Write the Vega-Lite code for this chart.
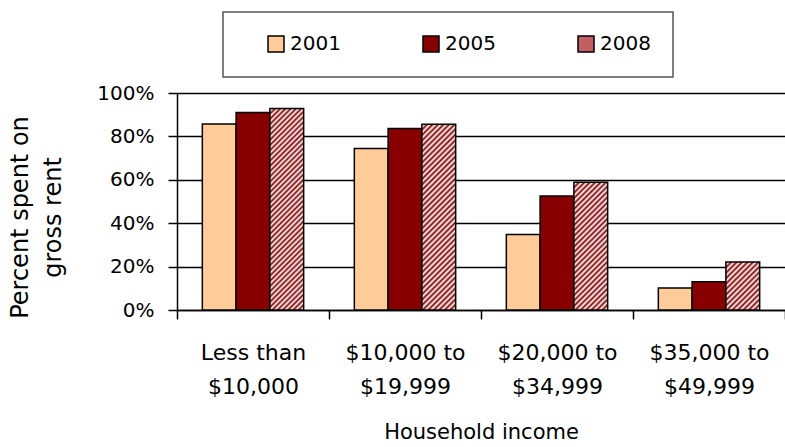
{
  "$schema": "https://vega.github.io/schema/vega-lite/v6.json",
  "width": 608,
  "height": 217,
  "autosize": {"type": "none"},
  "padding": {"left": 177, "top": 93, "right": 0, "bottom": 137},
  "background": "white",
  "config": {"font": "DejaVu Sans", "view": {"stroke": null}},
  "data": {"values": [
    {"income": "Less than $10,000", "year": "2001", "pct": 0.857},
    {"income": "Less than $10,000", "year": "2005", "pct": 0.91},
    {"income": "Less than $10,000", "year": "2008", "pct": 0.928},
    {"income": "$10,000 to $19,999", "year": "2001", "pct": 0.744},
    {"income": "$10,000 to $19,999", "year": "2005", "pct": 0.836},
    {"income": "$10,000 to $19,999", "year": "2008", "pct": 0.856},
    {"income": "$20,000 to $34,999", "year": "2001", "pct": 0.348},
    {"income": "$20,000 to $34,999", "year": "2005", "pct": 0.525},
    {"income": "$20,000 to $34,999", "year": "2008", "pct": 0.589},
    {"income": "$35,000 to $49,999", "year": "2001", "pct": 0.101},
    {"income": "$35,000 to $49,999", "year": "2005", "pct": 0.13},
    {"income": "$35,000 to $49,999", "year": "2008", "pct": 0.221}
  ]},
  "mark": {"type": "bar", "stroke": "#000", "strokeWidth": 1.5},
  "encoding": {
    "x": {
      "field": "income", "type": "nominal",
      "sort": ["Less than $10,000", "$10,000 to $19,999", "$20,000 to $34,999", "$35,000 to $49,999"],
      "scale": {"paddingInner": 0, "paddingOuter": 0},
      "axis": {
        "tickBand": "extent", "grid": false,
        "domainColor": "#000", "domainWidth": 1.5,
        "tickColor": "#000", "tickWidth": 1.5, "tickSize": 9,
        "labelAngle": 0, "labelFontSize": 22, "labelColor": "#000",
        "labelBaseline": "alphabetic", "labelPadding": 40, "labelLineHeight": 34,
        "labelExpr": "[slice(datum.label, 0, lastindexof(datum.label, ' ')), slice(datum.label, lastindexof(datum.label, ' ') + 1)]",
        "title": "Household income", "titleFontSize": 21, "titleFontWeight": "normal", "titleColor": "#000",
        "titleBaseline": "alphabetic", "titleY": 128
      }
    },
    "xOffset": {"field": "year", "type": "nominal", "scale": {"paddingInner": 0, "paddingOuter": 0.75}},
    "y": {
      "field": "pct", "type": "quantitative",
      "scale": {"domain": [0, 1]},
      "axis": {
        "values": [0, 0.2, 0.4, 0.6, 0.8, 1], "format": ".0%",
        "grid": true, "gridColor": "#000", "gridWidth": 1.5,
        "domainColor": "#000", "domainWidth": 1.5,
        "tickColor": "#000", "tickWidth": 1.5, "tickSize": 9,
        "labelFontSize": 20, "labelColor": "#000", "labelPadding": 14,
        "title": ["Percent spent on", "gross rent"], "titleFontSize": 24, "titleFontWeight": "normal", "titleColor": "#000",
        "titleAngle": -90, "titleAlign": "center", "titleBaseline": "top", "titleX": -169, "titleY": 124, "titleLineHeight": 33
      }
    },
    "fill": {
      "field": "year", "type": "nominal",
      "scale": {"domain": ["2001", "2005", "2008"], "range": ["#FFCC99", "#880000", "#c06060"]},
      "condition": [
        {"test": "datum.year === '2008' && datum.income === 'Less than $10,000'", "value": {"gradient": "linear", "x1": 0, "y1": 0, "x2": 0.1905, "y2": 1.1358, "stops": [{"offset":0,"color":"#800"},{"offset":0.0111,"color":"#fff"},{"offset":0.0222,"color":"#800"},{"offset":0.0333,"color":"#fff"},{"offset":0.0444,"color":"#800"},{"offset":0.0556,"color":"#fff"},{"offset":0.0667,"color":"#800"},{"offset":0.0778,"color":"#fff"},{"offset":0.0889,"color":"#800"},{"offset":0.1,"color":"#fff"},{"offset":0.1111,"color":"#800"},{"offset":0.1222,"color":"#fff"},{"offset":0.1333,"color":"#800"},{"offset":0.1444,"color":"#fff"},{"offset":0.1556,"color":"#800"},{"offset":0.1667,"color":"#fff"},{"offset":0.1778,"color":"#800"},{"offset":0.1889,"color":"#fff"},{"offset":0.2,"color":"#800"},{"offset":0.2111,"color":"#fff"},{"offset":0.2222,"color":"#800"},{"offset":0.2333,"color":"#fff"},{"offset":0.2444,"color":"#800"},{"offset":0.2556,"color":"#fff"},{"offset":0.2667,"color":"#800"},{"offset":0.2778,"color":"#fff"},{"offset":0.2889,"color":"#800"},{"offset":0.3,"color":"#fff"},{"offset":0.3111,"color":"#800"},{"offset":0.3222,"color":"#fff"},{"offset":0.3333,"color":"#800"},{"offset":0.3444,"color":"#fff"},{"offset":0.3556,"color":"#800"},{"offset":0.3667,"color":"#fff"},{"offset":0.3778,"color":"#800"},{"offset":0.3889,"color":"#fff"},{"offset":0.4,"color":"#800"},{"offset":0.4111,"color":"#fff"},{"offset":0.4222,"color":"#800"},{"offset":0.4333,"color":"#fff"},{"offset":0.4444,"color":"#800"},{"offset":0.4556,"color":"#fff"},{"offset":0.4667,"color":"#800"},{"offset":0.4778,"color":"#fff"},{"offset":0.4889,"color":"#800"},{"offset":0.5,"color":"#fff"},{"offset":0.5111,"color":"#800"},{"offset":0.5222,"color":"#fff"},{"offset":0.5333,"color":"#800"},{"offset":0.5444,"color":"#fff"},{"offset":0.5556,"color":"#800"},{"offset":0.5667,"color":"#fff"},{"offset":0.5778,"color":"#800"},{"offset":0.5889,"color":"#fff"},{"offset":0.6,"color":"#800"},{"offset":0.6111,"color":"#fff"},{"offset":0.6222,"color":"#800"},{"offset":0.6333,"color":"#fff"},{"offset":0.6444,"color":"#800"},{"offset":0.6556,"color":"#fff"},{"offset":0.6667,"color":"#800"},{"offset":0.6778,"color":"#fff"},{"offset":0.6889,"color":"#800"},{"offset":0.7,"color":"#fff"},{"offset":0.7111,"color":"#800"},{"offset":0.7222,"color":"#fff"},{"offset":0.7333,"color":"#800"},{"offset":0.7444,"color":"#fff"},{"offset":0.7556,"color":"#800"},{"offset":0.7667,"color":"#fff"},{"offset":0.7778,"color":"#800"},{"offset":0.7889,"color":"#fff"},{"offset":0.8,"color":"#800"},{"offset":0.8111,"color":"#fff"},{"offset":0.8222,"color":"#800"},{"offset":0.8333,"color":"#fff"},{"offset":0.8444,"color":"#800"},{"offset":0.8556,"color":"#fff"},{"offset":0.8667,"color":"#800"},{"offset":0.8778,"color":"#fff"},{"offset":0.8889,"color":"#800"},{"offset":0.9,"color":"#fff"},{"offset":0.9111,"color":"#800"},{"offset":0.9222,"color":"#fff"},{"offset":0.9333,"color":"#800"},{"offset":0.9444,"color":"#fff"},{"offset":0.9556,"color":"#800"},{"offset":0.9667,"color":"#fff"},{"offset":0.9778,"color":"#800"},{"offset":0.9889,"color":"#fff"},{"offset":1,"color":"#800"}]}},
        {"test": "datum.year === '2008' && datum.income === '$10,000 to $19,999'", "value": {"gradient": "linear", "x1": 0, "y1": 0, "x2": 0.2081, "y2": 1.144, "stops": [{"offset":0,"color":"#800"},{"offset":0.0125,"color":"#fff"},{"offset":0.025,"color":"#800"},{"offset":0.0375,"color":"#fff"},{"offset":0.05,"color":"#800"},{"offset":0.0625,"color":"#fff"},{"offset":0.075,"color":"#800"},{"offset":0.0875,"color":"#fff"},{"offset":0.1,"color":"#800"},{"offset":0.1125,"color":"#fff"},{"offset":0.125,"color":"#800"},{"offset":0.1375,"color":"#fff"},{"offset":0.15,"color":"#800"},{"offset":0.1625,"color":"#fff"},{"offset":0.175,"color":"#800"},{"offset":0.1875,"color":"#fff"},{"offset":0.2,"color":"#800"},{"offset":0.2125,"color":"#fff"},{"offset":0.225,"color":"#800"},{"offset":0.2375,"color":"#fff"},{"offset":0.25,"color":"#800"},{"offset":0.2625,"color":"#fff"},{"offset":0.275,"color":"#800"},{"offset":0.2875,"color":"#fff"},{"offset":0.3,"color":"#800"},{"offset":0.3125,"color":"#fff"},{"offset":0.325,"color":"#800"},{"offset":0.3375,"color":"#fff"},{"offset":0.35,"color":"#800"},{"offset":0.3625,"color":"#fff"},{"offset":0.375,"color":"#800"},{"offset":0.3875,"color":"#fff"},{"offset":0.4,"color":"#800"},{"offset":0.4125,"color":"#fff"},{"offset":0.425,"color":"#800"},{"offset":0.4375,"color":"#fff"},{"offset":0.45,"color":"#800"},{"offset":0.4625,"color":"#fff"},{"offset":0.475,"color":"#800"},{"offset":0.4875,"color":"#fff"},{"offset":0.5,"color":"#800"},{"offset":0.5125,"color":"#fff"},{"offset":0.525,"color":"#800"},{"offset":0.5375,"color":"#fff"},{"offset":0.55,"color":"#800"},{"offset":0.5625,"color":"#fff"},{"offset":0.575,"color":"#800"},{"offset":0.5875,"color":"#fff"},{"offset":0.6,"color":"#800"},{"offset":0.6125,"color":"#fff"},{"offset":0.625,"color":"#800"},{"offset":0.6375,"color":"#fff"},{"offset":0.65,"color":"#800"},{"offset":0.6625,"color":"#fff"},{"offset":0.675,"color":"#800"},{"offset":0.6875,"color":"#fff"},{"offset":0.7,"color":"#800"},{"offset":0.7125,"color":"#fff"},{"offset":0.725,"color":"#800"},{"offset":0.7375,"color":"#fff"},{"offset":0.75,"color":"#800"},{"offset":0.7625,"color":"#fff"},{"offset":0.775,"color":"#800"},{"offset":0.7875,"color":"#fff"},{"offset":0.8,"color":"#800"},{"offset":0.8125,"color":"#fff"},{"offset":0.825,"color":"#800"},{"offset":0.8375,"color":"#fff"},{"offset":0.85,"color":"#800"},{"offset":0.8625,"color":"#fff"},{"offset":0.875,"color":"#800"},{"offset":0.8875,"color":"#fff"},{"offset":0.9,"color":"#800"},{"offset":0.9125,"color":"#fff"},{"offset":0.925,"color":"#800"},{"offset":0.9375,"color":"#fff"},{"offset":0.95,"color":"#800"},{"offset":0.9625,"color":"#fff"},{"offset":0.975,"color":"#800"},{"offset":0.9875,"color":"#fff"},{"offset":1,"color":"#800"}]}},
        {"test": "datum.year === '2008' && datum.income === '$20,000 to $34,999'", "value": {"gradient": "linear", "x1": 0, "y1": 0, "x2": 0.3124, "y2": 1.1817, "stops": [{"offset":0,"color":"#800"},{"offset":0.0167,"color":"#fff"},{"offset":0.0333,"color":"#800"},{"offset":0.05,"color":"#fff"},{"offset":0.0667,"color":"#800"},{"offset":0.0833,"color":"#fff"},{"offset":0.1,"color":"#800"},{"offset":0.1167,"color":"#fff"},{"offset":0.1333,"color":"#800"},{"offset":0.15,"color":"#fff"},{"offset":0.1667,"color":"#800"},{"offset":0.1833,"color":"#fff"},{"offset":0.2,"color":"#800"},{"offset":0.2167,"color":"#fff"},{"offset":0.2333,"color":"#800"},{"offset":0.25,"color":"#fff"},{"offset":0.2667,"color":"#800"},{"offset":0.2833,"color":"#fff"},{"offset":0.3,"color":"#800"},{"offset":0.3167,"color":"#fff"},{"offset":0.3333,"color":"#800"},{"offset":0.35,"color":"#fff"},{"offset":0.3667,"color":"#800"},{"offset":0.3833,"color":"#fff"},{"offset":0.4,"color":"#800"},{"offset":0.4167,"color":"#fff"},{"offset":0.4333,"color":"#800"},{"offset":0.45,"color":"#fff"},{"offset":0.4667,"color":"#800"},{"offset":0.4833,"color":"#fff"},{"offset":0.5,"color":"#800"},{"offset":0.5167,"color":"#fff"},{"offset":0.5333,"color":"#800"},{"offset":0.55,"color":"#fff"},{"offset":0.5667,"color":"#800"},{"offset":0.5833,"color":"#fff"},{"offset":0.6,"color":"#800"},{"offset":0.6167,"color":"#fff"},{"offset":0.6333,"color":"#800"},{"offset":0.65,"color":"#fff"},{"offset":0.6667,"color":"#800"},{"offset":0.6833,"color":"#fff"},{"offset":0.7,"color":"#800"},{"offset":0.7167,"color":"#fff"},{"offset":0.7333,"color":"#800"},{"offset":0.75,"color":"#fff"},{"offset":0.7667,"color":"#800"},{"offset":0.7833,"color":"#fff"},{"offset":0.8,"color":"#800"},{"offset":0.8167,"color":"#fff"},{"offset":0.8333,"color":"#800"},{"offset":0.85,"color":"#fff"},{"offset":0.8667,"color":"#800"},{"offset":0.8833,"color":"#fff"},{"offset":0.9,"color":"#800"},{"offset":0.9167,"color":"#fff"},{"offset":0.9333,"color":"#800"},{"offset":0.95,"color":"#fff"},{"offset":0.9667,"color":"#800"},{"offset":0.9833,"color":"#fff"},{"offset":1,"color":"#800"}]}},
        {"test": "datum.year === '2008' && datum.income === '$35,000 to $49,999'", "value": {"gradient": "linear", "x1": 0, "y1": 0, "x2": 0.8024, "y2": 1.1392, "stops": [{"offset":0,"color":"#800"},{"offset":0.0333,"color":"#fff"},{"offset":0.0667,"color":"#800"},{"offset":0.1,"color":"#fff"},{"offset":0.1333,"color":"#800"},{"offset":0.1667,"color":"#fff"},{"offset":0.2,"color":"#800"},{"offset":0.2333,"color":"#fff"},{"offset":0.2667,"color":"#800"},{"offset":0.3,"color":"#fff"},{"offset":0.3333,"color":"#800"},{"offset":0.3667,"color":"#fff"},{"offset":0.4,"color":"#800"},{"offset":0.4333,"color":"#fff"},{"offset":0.4667,"color":"#800"},{"offset":0.5,"color":"#fff"},{"offset":0.5333,"color":"#800"},{"offset":0.5667,"color":"#fff"},{"offset":0.6,"color":"#800"},{"offset":0.6333,"color":"#fff"},{"offset":0.6667,"color":"#800"},{"offset":0.7,"color":"#fff"},{"offset":0.7333,"color":"#800"},{"offset":0.7667,"color":"#fff"},{"offset":0.8,"color":"#800"},{"offset":0.8333,"color":"#fff"},{"offset":0.8667,"color":"#800"},{"offset":0.9,"color":"#fff"},{"offset":0.9333,"color":"#800"},{"offset":0.9667,"color":"#fff"},{"offset":1,"color":"#800"}]}}
      ],
      "legend": {
        "orient": "none", "legendX": 46, "legendY": -81,
        "direction": "horizontal", "columns": 3, "columnPadding": 79,
        "title": " ", "titleOrient": "left", "titlePadding": 21, "titleFontSize": 2,
        "symbolType": "square", "symbolSize": 256, "symbolStrokeColor": "#000", "symbolStrokeWidth": 1.5,
        "labelFontSize": 20, "labelOffset": 4, "labelColor": "#000",
        "padding": 22, "strokeColor": "#555", "fillColor": "white",
        "encode": {
          "legend": {"update": {"strokeWidth": {"value": 1.5}}},
          "symbols": {"update": {
            "fill": {
              "condition": [
                {"test": "datum.value === '2008'", "value": {"gradient": "linear", "x1": 0, "y1": 0, "x2": 1, "y2": 1, "stops": [{"offset":0,"color":"#800"},{"offset":0.0833,"color":"#fff"},{"offset":0.1667,"color":"#800"},{"offset":0.25,"color":"#fff"},{"offset":0.3333,"color":"#800"},{"offset":0.4167,"color":"#fff"},{"offset":0.5,"color":"#800"},{"offset":0.5833,"color":"#fff"},{"offset":0.6667,"color":"#800"},{"offset":0.75,"color":"#fff"},{"offset":0.8333,"color":"#800"},{"offset":0.9167,"color":"#fff"},{"offset":1,"color":"#800"}]}},
                {"test": "datum.value === '2001'", "value": "#FFCC99"}
              ],
              "value": "#880000"
            },
            "stroke": {"value": "#000"},
            "strokeWidth": {"value": 1.5}
          }}
        }
      }
    }
  }
}
